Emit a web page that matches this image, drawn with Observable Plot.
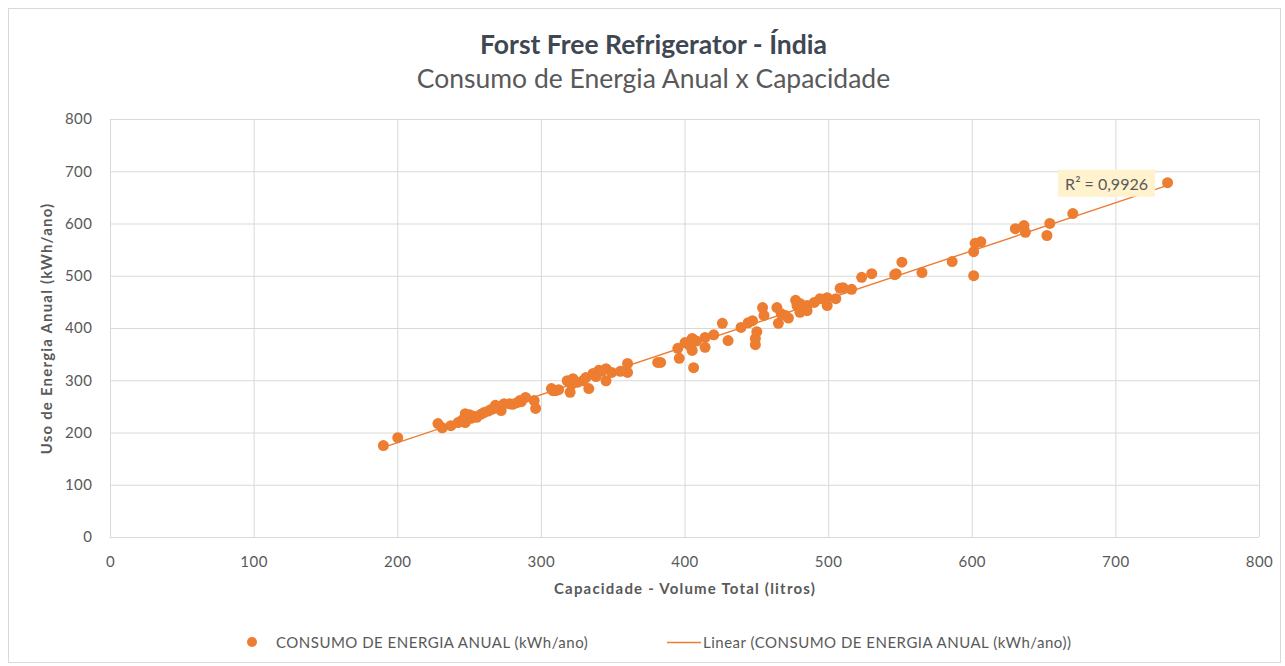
<!DOCTYPE html>
<html>
<head>
<meta charset="utf-8">
<script src="https://cdn.jsdelivr.net/npm/d3@7"></script>
<script src="https://cdn.jsdelivr.net/npm/@observablehq/plot@0.6"></script>
<style>
  html, body { margin: 0; padding: 0; background: #fff; }
  #page { position: relative; width: 1285px; height: 666px; overflow: hidden; font-family: Lato, "Open Sans", sans-serif; }
  #frame { position: absolute; left: 8px; top: 8px; width: 1273px; height: 655px; border: 1px solid #d9d9d9; box-sizing: border-box; }
  #title { position: absolute; left: 11px; width: 1285px; top: 28px; line-height: 32px; text-align: center; font-size: 26.5px; font-weight: bold; color: #3f4752; }
  #subtitle { position: absolute; left: 11px; width: 1285px; top: 62px; line-height: 32px; text-align: center; font-size: 26.5px; color: #595959; }
  #chart { position: absolute; left: 0; top: 100px; }
  #legend { position: absolute; left: 0; top: 632px; width: 1285px; height: 22px; font-size: 15px; letter-spacing: 0.5px; color: #595959; }
  .leg { position: absolute; top: 0; white-space: nowrap; line-height: 20px; }
</style>
</head>
<body>
<div id="page">
  <div id="frame"></div>
  <div id="title">Forst Free Refrigerator - Índia</div>
  <div id="subtitle">Consumo de Energia Anual x Capacidade</div>
  <div id="chart"></div>
  <div id="legend">
    <svg class="leg" style="left:246px;top:4px" width="12" height="12"><circle cx="6" cy="6" r="5" fill="#ED7D31"></circle></svg>
    <span class="leg" style="left:276px">CONSUMO DE ENERGIA ANUAL (kWh/ano)</span>
    <svg class="leg" style="left:667px;top:9px" width="34" height="3"><line x1="0" x2="34" y1="1.5" y2="1.5" stroke="#ED7D31" stroke-width="1.5"></line></svg>
    <span class="leg" style="left:703px">Linear (CONSUMO DE ENERGIA ANUAL (kWh/ano))</span>
  </div>
</div>
<script>
// Capacidade - Volume Total (litros)
const capacity = [
  190, 200, 228, 231, 237, 242, 247, 247, 251, 255, 260, 267, 268, 272, 274, 278, 283, 289,
  245, 250, 253, 258, 263, 265, 270, 280, 286,
  285, 295, 296, 308, 310, 307, 318, 320, 322, 329, 331, 333, 336, 340, 345, 345, 349, 360, 360, 381,
  312, 325, 338, 342, 355, 321,
  383, 395, 396, 400, 405, 405, 406, 414, 414, 420, 426, 430, 439, 444, 450, 449, 449, 454, 455, 464, 465, 470, 477, 478, 480, 485,
  403, 408, 447, 467, 472,
  480, 485, 490, 494, 499, 499, 505, 508, 510, 516, 523, 530, 547, 551, 565,
  546, 586, 601, 601, 602, 606, 630, 636, 637, 652, 654, 670, 736
];
// Uso de Energia Anual (kWh/ano)
const energy = [
  176, 191, 218, 210, 214, 220, 237, 220, 228, 230, 239, 247, 253, 243, 256, 256, 258, 268,
  225, 235, 232, 236, 242, 245, 250, 255, 260,
  262, 262, 247, 281, 281, 285, 300, 278, 304, 300, 306, 285, 314, 320, 323, 300, 316, 333, 316, 335,
  283, 297, 308, 318, 318, 293,
  335, 362, 343, 373, 381, 358, 325, 383, 364, 388, 410, 377, 402, 411, 394, 381, 369, 440, 425, 440, 410, 425, 454, 444, 431, 444,
  368, 376, 415, 428, 420,
  448, 434, 450, 457, 459, 444, 457, 477, 478, 475, 498, 505, 505, 527, 507,
  503, 528, 501, 547, 563, 566, 591, 597, 584, 578, 601, 620, 679
];
const xTicks = [0, 100, 200, 300, 400, 500, 600, 700, 800];
const yTicks = [0, 100, 200, 300, 400, 500, 600, 700, 800];
const xTitle = "Capacidade - Volume Total (litros)";
const yTitle = "Uso de Energia Anual (kWh/ano)";
const r2Text = "R² = 0,9926";
const r2Pos = [{x: 693.5, y: 675.5, text: r2Text}];

const data = capacity.map((c, i) => ({c, e: energy[i]}));
const orange = "#ED7D31";

const chart = Plot.plot({
  width: 1285,
  height: 510,
  marginLeft: 110,
  marginRight: 26,
  marginTop: 19,
  marginBottom: 73,
  style: {fontFamily: "Lato, 'Open Sans', sans-serif", fontSize: "15px", color: "#595959", background: "transparent"},
  x: {domain: [0, 800]},
  y: {domain: [0, 800]},
  marks: [
    Plot.gridX(xTicks, {stroke: "#d9d9d9", strokeOpacity: 1}),
    Plot.gridY(yTicks, {stroke: "#d9d9d9", strokeOpacity: 1}),
    Plot.axisX({ticks: xTicks, tickSize: 0, tickPadding: 19, label: null, fill: "#595959", fontSize: 15, className: "tk"}),
    Plot.axisY({ticks: yTicks, tickSize: 0, tickPadding: 18, label: null, fill: "#595959", fontSize: 15, className: "tk"}),
    Plot.text([xTitle], {frameAnchor: "bottom", dy: 56, fontWeight: "bold", fill: "#595959", fontSize: 15, className: "ttl"}),
    Plot.text([yTitle], {frameAnchor: "left", dx: -63, rotate: -90, textAnchor: "middle", fontWeight: "bold", fill: "#595959", fontSize: 15, className: "ttl"}),
    Plot.dot(data, {x: "c", y: "e", r: 5.5, fill: orange, stroke: null}),
    Plot.linearRegressionY(data, {x: "c", y: "e", stroke: orange, strokeWidth: 1.4, ci: 0}),
    Plot.text(r2Pos, {x: "x", y: "y", text: "text", fill: "#595959", fontSize: 16, className: "r2"})
  ]
});
chart.querySelectorAll("g.tk text").forEach(el => el.setAttribute("letter-spacing", "0.5px"));
chart.querySelectorAll("g.ttl text").forEach(el => el.setAttribute("letter-spacing", "1.2px"));
document.getElementById("chart").appendChild(chart);

// beige box behind the R² label
const t = chart.querySelector("g.r2 text");
if (t) {
  const b = t.getBBox();
  const rect = document.createElementNS("http://www.w3.org/2000/svg", "rect");
  rect.setAttribute("x", b.x - 7);
  rect.setAttribute("y", b.y - 4);
  rect.setAttribute("width", b.width + 14);
  rect.setAttribute("height", b.height + 8);
  rect.setAttribute("fill", "#FFF2CC");
  if (t.getAttribute("transform")) rect.setAttribute("transform", t.getAttribute("transform"));
  t.parentNode.insertBefore(rect, t);
}
</script>
</body>
</html>
